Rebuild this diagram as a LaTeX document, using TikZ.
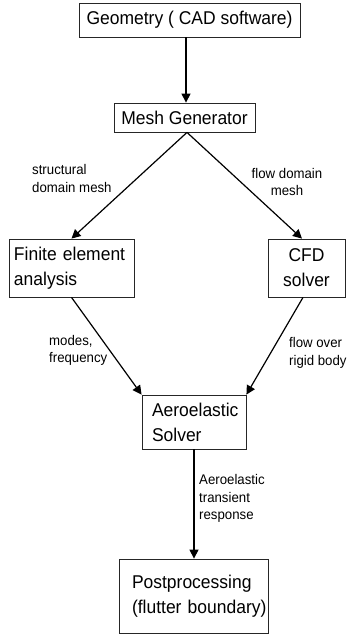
\documentclass[tikz,border=0pt]{standalone}
\usepackage{fontspec}
\setmainfont{Liberation Sans}[FakeStretch=0.945]
\usetikzlibrary{arrows.meta}
\begin{document}
\begin{tikzpicture}[x=1pt,y=-1pt,
  box/.style={draw=black!85, line width=0.8pt, inner sep=0pt, font=\fontsize{18.5}{25}\selectfont},
  lbl/.style={inner sep=0pt, font=\fontsize{14}{17.5}\selectfont},
  arr/.style={line width=1.2pt, -{Triangle[length=9pt,width=9pt]}},
  ln/.style={line width=1.2pt}]
\useasboundingbox (0,0) rectangle (346,636);
% boxes
\node[box, minimum width=221pt, minimum height=34pt] (geo) at (189.5,20) {Geometry ( CAD software)};
\node[box, minimum width=141pt, minimum height=29pt] (mesh) at (184.5,117.5) {Mesh Generator};
\node[box, text width=125pt, align=left, minimum height=58pt] (fe) at (71.5,268) {\hspace*{5pt}Finite element\\\hspace*{5pt}analysis};
\node[box, text width=77pt, align=center, minimum height=58pt] (cfd) at (306.5,268) {CFD\\solver};
\node[box, text width=104pt, align=left, minimum height=54pt] (aero) at (194,422) {\hspace*{10pt}Aeroelastic\\\hspace*{10pt}Solver};
\node[box, text width=149pt, align=left, minimum height=74pt] (post) at (193.5,596) {\hspace*{13pt}Postprocessing\\\hspace*{13pt}(flutter boundary)};
% labels
\node[lbl, align=left, anchor=west] (l1) at (32,178.5) {structural\\domain mesh};
\node[lbl, align=center] (l2) at (287,182) {flow domain\\mesh};
\node[lbl, align=left, anchor=west] (l3) at (49,350.5) {modes,\\frequency};
\node[lbl, align=left, anchor=west] (l4) at (289,353) {flow over\\rigid body};
\node[lbl, align=left, anchor=west] (l5) at (199,498.5) {Aeroelastic\\transient\\response};
% connectors
\draw[arr] ([xshift=1.5pt]mesh.north |- geo.south) -- ([xshift=1.5pt]mesh.north);
\draw[arr] ([xshift=2.5pt]mesh.south) -- (fe.north);
\draw[arr] ([xshift=2.5pt]mesh.south) -- ([xshift=-4.5pt]cfd.north);
\draw[arr] (fe.south) -- (aero.north west);
\draw[arr] ([xshift=-3.5pt]cfd.south) -- (aero.north east);
\draw[arr] (aero.south) -- (aero.south |- post.north);
\end{tikzpicture}
\end{document}
